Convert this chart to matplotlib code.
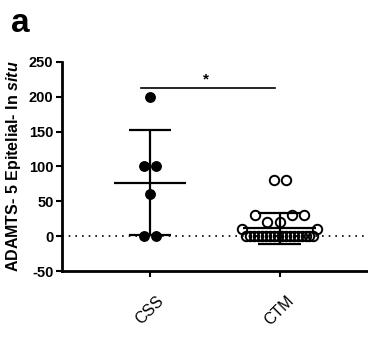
"""Scatter with mean and SD for ADAMTS-5 epithelial in situ scores."""

import numpy as np
import matplotlib
matplotlib.use("Agg")
import matplotlib.pyplot as plt

plt.rcParams["font.family"] = ["Liberation Sans", "DejaVu Sans"]
plt.rcParams["mathtext.fontset"] = "custom"
plt.rcParams["mathtext.bfit"] = "Liberation Sans:italic:bold"
plt.rcParams["mathtext.bf"] = "Liberation Sans:bold"

groups = ["CSS", "CTM"]
css_values = [200, 100, 100, 60, 0, 0]
ctm_values = [80, 80, 30, 20, 20, 30, 30, 10] + [0] * 18 + [10]
y_ticks = [-50, 0, 50, 100, 150, 200, 250]
sig_text = "*"
sig_height = 213


def row_offsets(values, row_size=25.0, gap=0.095, max_width=0.58):
    """Spread points that fall in the same value row across the x direction."""
    values = np.asarray(values, dtype=float)
    rows = np.floor((values + row_size / 2) / row_size)
    offsets = np.zeros(len(values))
    for r in np.unique(rows):
        idx = np.where(rows == r)[0]
        n = len(idx)
        if n == 1:
            continue
        step = min(gap, max_width / (n - 1))
        offsets[idx] = (np.arange(n) - (n - 1) / 2) * step
    return offsets


fig = plt.figure(figsize=(3.68, 3.38), dpi=100)
ax = fig.add_axes([0.168, 0.198, 0.832, 0.619])

ax.axhline(0, color="black", linestyle=(0, (1, 3)), lw=1.2, zorder=1)

for i, vals in enumerate([css_values, ctm_values]):
    vals = np.asarray(vals, dtype=float)
    mean = vals.mean()
    sd = vals.std(ddof=1)
    ax.hlines(mean, i - 0.28, i + 0.28, color="black", lw=1.6, zorder=2)
    ax.vlines(i, mean - sd, mean + sd, color="black", lw=1.6, zorder=2)
    ax.hlines([mean - sd, mean + sd], i - 0.165, i + 0.165, color="black", lw=1.6, zorder=2)
    xs = i + row_offsets(vals)
    if i == 0:
        ax.plot(xs, vals, "o", ms=6.8, color="black", zorder=3)
    else:
        ax.plot(xs, vals, "o", ms=6.8, mfc="none", mec="black", mew=1.4, zorder=3)

ax.plot([-0.07, 0.96], [sig_height, sig_height], color="black", lw=1.2)
ax.text(0.43, sig_height + 2, sig_text, ha="center", va="bottom", fontsize=11, fontweight="bold")

ax.set_xlim(-0.68, 1.68)
ax.set_ylim(-50, 250)
ax.set_yticks(y_ticks)
ax.set_yticklabels([str(t) for t in y_ticks], fontweight="bold", fontsize=10.5)
ax.set_xticks(range(len(groups)))
ax.set_xticklabels(groups, rotation=45, ha="center", va="top", fontsize=11.5)
ax.tick_params(axis="both", width=1.5, length=4, pad=2)
ax.tick_params(axis="x", pad=12)

for side in ["top", "right"]:
    ax.spines[side].set_visible(False)
for side in ["left", "bottom"]:
    ax.spines[side].set_linewidth(2)

ax.set_ylabel(r"ADAMTS- 5 Epitelial- In $\mathbfit{situ}$", fontweight="bold",
              fontsize=11.5, labelpad=4)
fig.text(0.03, 0.905, "a", fontsize=24, fontweight="bold")

fig.savefig("out.png", dpi=100)
